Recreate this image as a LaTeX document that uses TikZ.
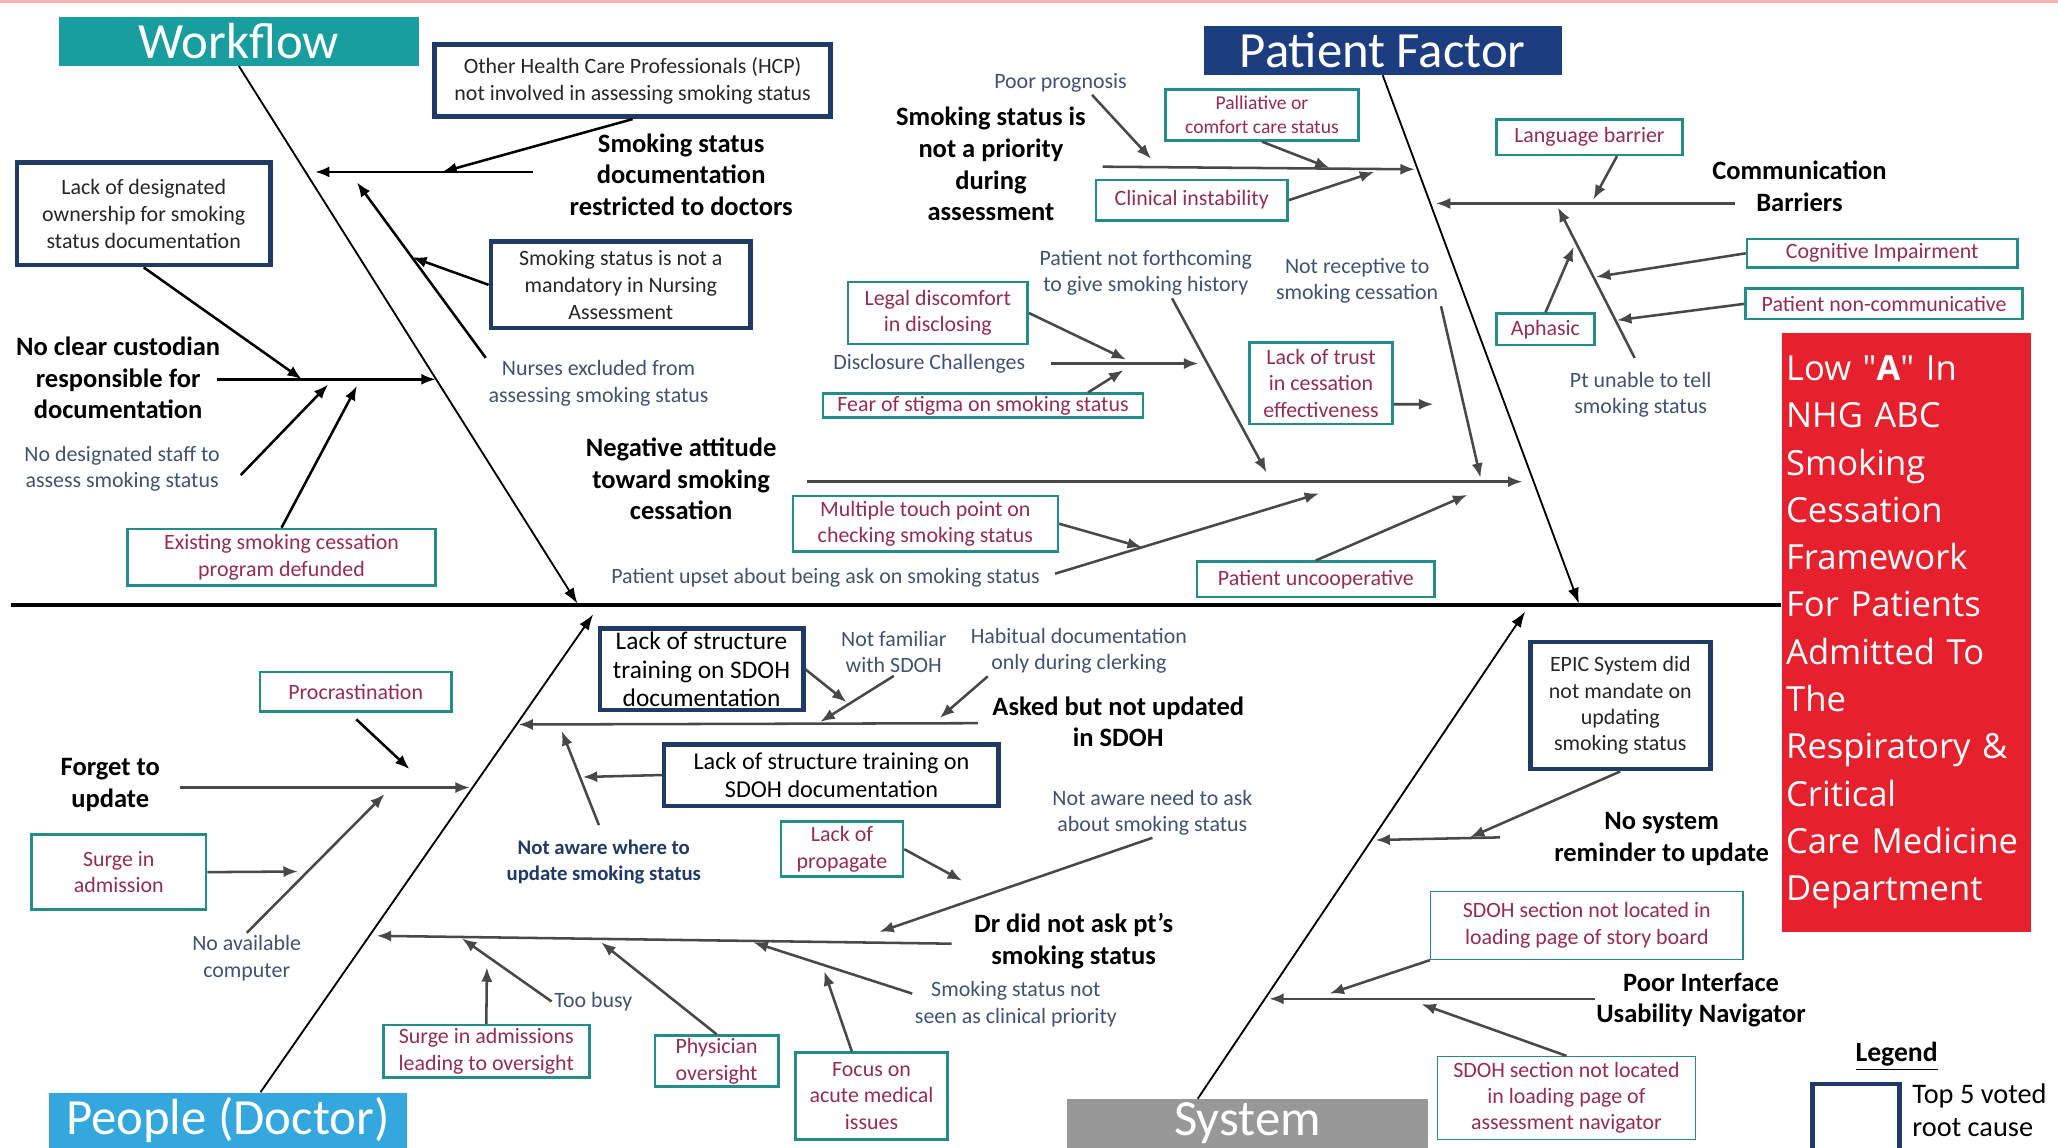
\documentclass[tikz,border=0pt]{standalone}
\usepackage{fontspec}
\setmainfont{Carlito}
\newfontfamily\effectfont{Open Sans}
\usepackage{tikz}
\usetikzlibrary{arrows.meta,positioning}

\definecolor{wfteal}{RGB}{24,158,158}
\definecolor{pfblue}{RGB}{28,62,128}
\definecolor{pdblue}{RGB}{52,168,222}
\definecolor{sygray}{RGB}{152,152,152}
\definecolor{effectred}{RGB}{230,32,44}
\definecolor{boxteal}{RGB}{34,142,140}
\definecolor{boxnavy}{RGB}{32,58,104}
\definecolor{causeblue}{RGB}{62,82,118}
\definecolor{causered}{RGB}{152,44,78}
\definecolor{twiggray}{RGB}{72,72,72}

\tikzset{
  title/.style={inner sep=0pt, text=white, font=\fontsize{22}{24}\selectfont},
  cause/.style={align=center, inner sep=1pt, font=\fontsize{11.5}{13.7}\selectfont\bfseries},
  note/.style={align=center, inner sep=1pt, text=causeblue, font=\fontsize{9.5}{11.4}\selectfont},
  tbox/.style={draw=boxteal, fill=white, line width=1.1pt, align=center, inner sep=0pt, text=causered, font=\fontsize{9.5}{11.4}\selectfont},
  nbox/.style={draw=boxnavy, fill=white, line width=2pt, align=center, inner sep=0pt, text=black!85, font=\fontsize{9.5}{11.6}\selectfont},
  bone/.style={line width=0.8pt, -{Latex[length=2.4mm,width=1.7mm]}},
  twig/.style={draw=twiggray, line width=1.1pt, -{Latex[length=2.2mm,width=1.7mm]}},
}

\begin{document}
\begin{tikzpicture}[x=0.02cm,y=-0.02cm]
\useasboundingbox (0,0) rectangle (1568,874) ;
\clip (0,0) rectangle (1568,874) ;
\fill[white] (0,0) rectangle (1568,874) ;
\fill[red!30] (0,0) rectangle (1568,2) ;

\node[title, fill=wfteal, minimum width=5.48cm, minimum height=0.74cm] (workflow) at (182,31.5) {Workflow} ;
\node[title, fill=pfblue, minimum width=5.46cm, minimum height=0.74cm] (patient) at (1053.5,38.5) {Patient Factor} ;
\node[title, fill=pdblue, minimum width=5.46cm, minimum height=0.84cm] (people) at (173.5,853.5) {People (Doctor)} ;
\node[title, fill=sygray, minimum width=5.5cm, minimum height=0.74cm] (system) at (950.5,856) {System} ;

\node[fill=effectred, text=white, anchor=north west, minimum height=9.14cm, text width=3.66cm, inner xsep=0.07cm, inner ysep=0pt, align=left, font=\effectfont\fontsize{15}{20.5}\selectfont] (effect) at (1357,253) {Low "\textbf{A}" In\\NHG ABC\\Smoking\\Cessation\\Framework\\For Patients\\Admitted To\\The\\Respiratory \&\\Critical\\Care Medicine\\Department} ;

\coordinate (spineL) at (8,461) ;
\coordinate (wfhead) at (440,460) ;
\coordinate (pfhead) at (1203,460) ;
\coordinate (pehead) at (452,468) ;
\coordinate (syhead) at (1162,466) ;

\draw[line width=2pt] (spineL) -- (spineL -| effect.west) ;
\draw[bone] (workflow.south) -- (wfhead) ;
\draw[bone] (patient.south) -- (pfhead) ;
\draw[bone] ([xshift=0.5cm]people.north) -- (pehead) ;
\draw[bone] ([xshift=-0.76cm]system.north) -- (syhead) ;

\node[cause] (restricted) at (519,133) {Smoking status\\documentation\\restricted to doctors} ;
\node[cause] (custodian) at (90,288) {No clear custodian\\responsible for\\documentation} ;
\node[cause] (negative) at (519,365) {Negative attitude\\toward smoking\\cessation} ;
\node[cause] (priority) at (755,125) {Smoking status is\\not a priority\\during\\assessment} ;
\node[cause] (communication) at (1371,142) {Communication\\Barriers} ;
\node[cause] (asked) at (852,550) {Asked but not updated\\in SDOH} ;
\node[cause] (forget) at (84,598) {Forget to\\update} ;
\node[cause] (drnotask) at (818,717) {Dr did not ask pt's\\smoking status} ;
\node[cause] (reminder) at (1266,639) {No system\\reminder to update} ;
\node[cause] (interface) at (1296,762) {Poor Interface\\Usability Navigator} ;

\node[note] (poor) at (808,63) {Poor prognosis} ;
\node[note] (forthcoming) at (873,208) {Patient not forthcoming\\to give smoking history} ;
\node[note] (receptive) at (1034,214) {Not receptive to\\smoking cessation} ;
\node[note] (disclosure) at (708,277) {Disclosure Challenges} ;
\node[note] (upset) at (629,440) {Patient upset about being ask on smoking status} ;
\node[note] (unable) at (1250,301) {Pt unable to tell\\smoking status} ;
\node[note] (nurses) at (456,292) {Nurses excluded from\\assessing smoking status} ;
\node[note] (nostaff) at (93,357) {No designated staff to\\assess smoking status} ;
\node[note] (familiar) at (681,497) {Not familiar\\with SDOH} ;
\node[note] (habitual) at (822,496) {Habitual documentation\\only during clerking} ;
\node[note, text=boxnavy, font=\fontsize{9}{11.4}\selectfont\bfseries] (notaware) at (460,657) {Not aware where to\\update smoking status} ;
\node[note] (computer) at (188,730) {No available\\computer} ;
\node[note] (needask) at (878,619) {Not aware need to ask\\about smoking status} ;
\node[note] (toobusy) at (452,763) {Too busy} ;
\node[note] (clinprio) at (774,765) {Smoking status not\\seen as clinical priority} ;

\node[tbox, font=\fontsize{8.5}{10.2}\selectfont, minimum width=2.94cm, minimum height=0.78cm] (palliative) at (961.5,87.5) {Palliative or\\comfort care status} ;
\node[tbox, minimum width=2.92cm, minimum height=0.62cm] (clinical) at (908,152.5) {Clinical instability} ;
\node[tbox, minimum width=2.84cm, minimum height=0.54cm] (language) at (1211,104.5) {Language barrier} ;
\node[tbox, minimum width=4.12cm, minimum height=0.44cm] (cognitive) at (1434,193) {Cognitive Impairment} ;
\node[tbox, minimum width=4.22cm, minimum height=0.46cm] (noncomm) at (1435.5,231.5) {Patient non-communicative} ;
\node[tbox, minimum width=1.5cm, minimum height=0.48cm] (aphasic) at (1177.5,251) {Aphasic} ;
\node[tbox, minimum width=2.74cm, minimum height=0.94cm] (legal) at (714.5,238.5) {Legal discomfort\\in disclosing} ;
\node[tbox, minimum width=4.88cm, minimum height=0.36cm] (stigma) at (749,309) {Fear of stigma on smoking status} ;
\node[tbox, minimum width=2.18cm, minimum height=1.24cm] (trust) at (1006.5,292) {Lack of trust\\in cessation\\effectiveness} ;
\node[tbox, minimum width=4.04cm, minimum height=0.84cm] (multiple) at (705,399) {Multiple touch point on\\checking smoking status} ;
\node[tbox, minimum width=3.62cm, minimum height=0.54cm] (uncoop) at (1002.5,441.5) {Patient uncooperative} ;
\node[tbox, minimum width=4.7cm, minimum height=0.86cm] (defunded) at (214.5,424.5) {Existing smoking cessation\\program defunded} ;
\node[tbox, minimum width=2.92cm, minimum height=0.6cm] (procr) at (271,527) {Procrastination} ;
\node[tbox, minimum width=2.66cm, minimum height=1.14cm] (surge) at (90.5,664.5) {Surge in\\admission} ;
\node[tbox, minimum width=3.14cm, minimum height=0.8cm] (surgeover) at (370.5,801) {Surge in admissions\\leading to oversight} ;
\node[tbox, minimum width=1.88cm, minimum height=0.78cm] (physician) at (546,808.5) {Physician\\oversight} ;
\node[tbox, minimum width=2.32cm, minimum height=1.32cm] (focus) at (664,835) {Focus on\\acute medical\\issues} ;
\node[tbox, minimum width=1.86cm, minimum height=0.84cm] (propagate) at (641.5,647) {Lack of\\propagate} ;
\node[tbox, line width=0.6pt, minimum width=4.76cm, minimum height=1.04cm] (story) at (1209,705) {SDOH section not located in\\loading page of story board} ;
\node[tbox, line width=0.6pt, minimum width=3.94cm, minimum height=1.26cm] (navigator) at (1193.5,836.5) {SDOH section not located\\in loading page of\\assessment navigator} ;

\node[nbox, minimum width=6.04cm, minimum height=1.1cm] (hcp) at (482,61.5) {Other Health Care Professionals (HCP)\\not involved in assessing smoking status} ;
\node[nbox, minimum width=3.86cm, minimum height=1.56cm] (owner) at (109.5,163) {Lack of designated\\ownership for smoking\\status documentation} ;
\node[nbox, minimum width=3.96cm, minimum height=1.32cm] (nursing) at (473,217) {Smoking status is not a\\mandatory in Nursing\\Assessment} ;
\node[nbox, text=black, font=\fontsize{11}{12.3}\selectfont, minimum width=3.1cm, minimum height=1.24cm] (trainA) at (534.5,510) {Lack of structure\\training on SDOH\\documentation} ;
\node[nbox, text=black, font=\fontsize{10.5}{12}\selectfont, minimum width=5.1cm, minimum height=0.94cm] (trainB) at (633.5,590.5) {Lack of structure training on\\SDOH documentation} ;
\node[nbox, font=\fontsize{9.5}{11.4}\selectfont, minimum width=2.74cm, minimum height=1.94cm] (epic) at (1234.5,537.5) {EPIC System did\\not mandate on\\updating\\smoking status} ;

\node[font=\fontsize{12}{14}\selectfont\bfseries] (legend) at (1445,805) {\underline{Legend}} ;
\node[draw=boxnavy, line width=2pt, minimum width=1.32cm, minimum height=1.2cm] (legbox) at (1414,856) {} ;
\node[align=left, inner sep=0pt, font=\fontsize{12.3}{14.6}\selectfont, right=0.16cm of legbox, yshift=0.2cm] (legtext) {Top 5 voted\\root cause} ;

\coordinate (restrictT) at (406,131) ;
\coordinate (restrictH) at (240,131) ;
\coordinate (hcpH) at (337,131) ;
\coordinate (nurseH) at (272,139) ;
\coordinate (nursingH) at (314,196) ;
\coordinate (custodianT) at (165,289) ;
\coordinate (custodianH) at (332,289) ;
\coordinate (ownerH) at (230,289) ;
\coordinate (nostaffH) at (250,293) ;
\coordinate (defundH) at (272,294) ;

\coordinate (negativeT) at (615,367) ;
\coordinate (negativeH) at (1160,367) ;
\coordinate (forthH) at (965,360) ;
\coordinate (receptH) at (1128,364) ;
\coordinate (disclH) at (913,277) ;
\coordinate (legalH) at (858,274) ;
\coordinate (stigmaH) at (856,282) ;
\coordinate (trustH) at (1092,308) ;
\coordinate (multipleH) at (870,417) ;
\coordinate (upsetH) at (1005,376) ;
\coordinate (uncoopH) at (1118,377) ;
\coordinate (priorityT) at (840,127) ;
\coordinate (priorityH) at (1078,129) ;
\coordinate (poorH) at (877,121) ;
\coordinate (pallH) at (1013,128) ;
\coordinate (clinH) at (1047,131) ;
\coordinate (commT) at (1322,155) ;
\coordinate (commH) at (1094,155) ;
\coordinate (langH) at (1214,152) ;
\coordinate (unableH) at (1187,158) ;
\coordinate (aphasicH) at (1199,188) ;
\coordinate (cogH) at (1216,211) ;
\coordinate (noncommH) at (1232,244) ;

\coordinate (askedT) at (745,551) ;
\coordinate (askedH) at (395,552) ;
\coordinate (trainAH) at (645,535) ;
\coordinate (familiarH) at (625,550) ;
\coordinate (habitualH) at (716,547) ;
\coordinate (notawareH) at (428,557) ;
\coordinate (trainBH) at (444,592) ;
\coordinate (forgetT) at (137,600) ;
\coordinate (forgetH) at (358,600) ;
\coordinate (procrH) at (312,586) ;
\coordinate (surgeH) at (227,664) ;
\coordinate (computerH) at (293,605) ;
\coordinate (drT) at (725,719) ;
\coordinate (drH) at (287,713) ;
\coordinate (needaskH) at (670,710) ;
\coordinate (propH) at (733,671) ;
\coordinate (clinprioH) at (574,718) ;
\coordinate (focusH) at (628,740) ;
\coordinate (physH) at (458,718) ;
\coordinate (toobusyH) at (352,715) ;
\coordinate (surgeoverH) at (371,737) ;

\coordinate (reminderT) at (1143,638) ;
\coordinate (reminderH) at (1048,640) ;
\coordinate (epicH) at (1120,638) ;
\coordinate (interfaceT) at (1215,761) ;
\coordinate (interfaceH) at (967,761) ;
\coordinate (storyH) at (1013,757) ;
\coordinate (navH) at (1083,765) ;

\draw[twig, draw=black] (restrictT) -- (restrictH) ;
\draw[twig, draw=black] (hcp.south) -- (hcpH) ;
\draw[twig, draw=black] (nurses.north west) -- (nurseH) ;
\draw[twig, draw=black] (nursing.west) -- (nursingH) ;
\draw[twig, draw=black] (custodianT) -- (custodianH) ;
\draw[twig, draw=black] (owner.south) -- (ownerH) ;
\draw[twig, draw=black, shorten <=0.4cm] (nostaff.south east) -- (nostaffH) ;
\draw[twig, draw=black] (defunded.north) -- (defundH) ;

\draw[twig] (negativeT) -- (negativeH) ;
\draw[twig] ([xshift=0.4cm]forthcoming.south) -- (forthH) ;
\draw[twig] (receptive.south east) -- (receptH) ;
\draw[twig, shorten <=0.35cm] (disclosure.east) -- (disclH) ;
\draw[twig] (legal.east) -- (legalH) ;
\draw[twig] ([xshift=1.6cm]stigma.north) -- (stigmaH) ;
\draw[twig] ([yshift=-0.32cm]trust.east) -- (trustH) ;
\draw[twig] (multiple.east) -- (multipleH) ;
\draw[twig, shorten <=0.2cm] (upset.east) -- (upsetH) ;
\draw[twig] (uncoop.north) -- (uncoopH) ;
\draw[twig] (priorityT) -- (priorityH) ;
\draw[twig] ([xshift=0.48cm]poor.south) -- (poorH) ;
\draw[twig] (palliative.south) -- (pallH) ;
\draw[twig] (clinical.east) -- (clinH) ;
\draw[twig] (commT) -- (commH) ;
\draw[twig] ([xshift=0.42cm]language.south) -- (langH) ;
\draw[twig, shorten <=0.2cm] (unable.north) -- (unableH) ;
\draw[twig] (aphasic.north) -- (aphasicH) ;
\draw[twig] (cognitive.west) -- (cogH) ;
\draw[twig] (noncomm.west) -- (noncommH) ;

\draw[twig] (askedT) -- (askedH) ;
\draw[twig] (trainA.east) -- (trainAH) ;
\draw[twig] (familiar.south) -- (familiarH) ;
\draw[twig] ([xshift=0.3cm]habitual.south west) -- (habitualH) ;
\draw[twig, shorten <=0.2cm] (notaware.north) -- (notawareH) ;
\draw[twig] (trainB.west) -- (trainBH) ;
\draw[twig] (forgetT) -- (forgetH) ;
\draw[twig, draw=black, shorten <=0.15cm] ([xshift=-0.1cm]procr.south) -- (procrH) ;
\draw[twig] (surge.east) -- (surgeH) ;
\draw[twig] (computer.north) -- (computerH) ;
\draw[twig] (drT) -- (drH) ;
\draw[twig] (needask.south) -- (needaskH) ;
\draw[twig] (propagate.east) -- (propH) ;
\draw[twig] ([yshift=0.16cm]clinprio.west) -- (clinprioH) ;
\draw[twig] ([xshift=-0.3cm]focus.north) -- (focusH) ;
\draw[twig] (physician.north) -- (physH) ;
\draw[twig] (toobusy.west) -- (toobusyH) ;
\draw[twig] (surgeover.north) -- (surgeoverH) ;

\draw[twig] (reminderT) -- (reminderH) ;
\draw[twig] (epic.south) -- (epicH) ;
\draw[twig] (interfaceT) -- (interfaceH) ;
\draw[twig] (story.south west) -- (storyH) ;
\draw[twig] (navigator.north) -- (navH) ;
\end{tikzpicture}
\end{document}
